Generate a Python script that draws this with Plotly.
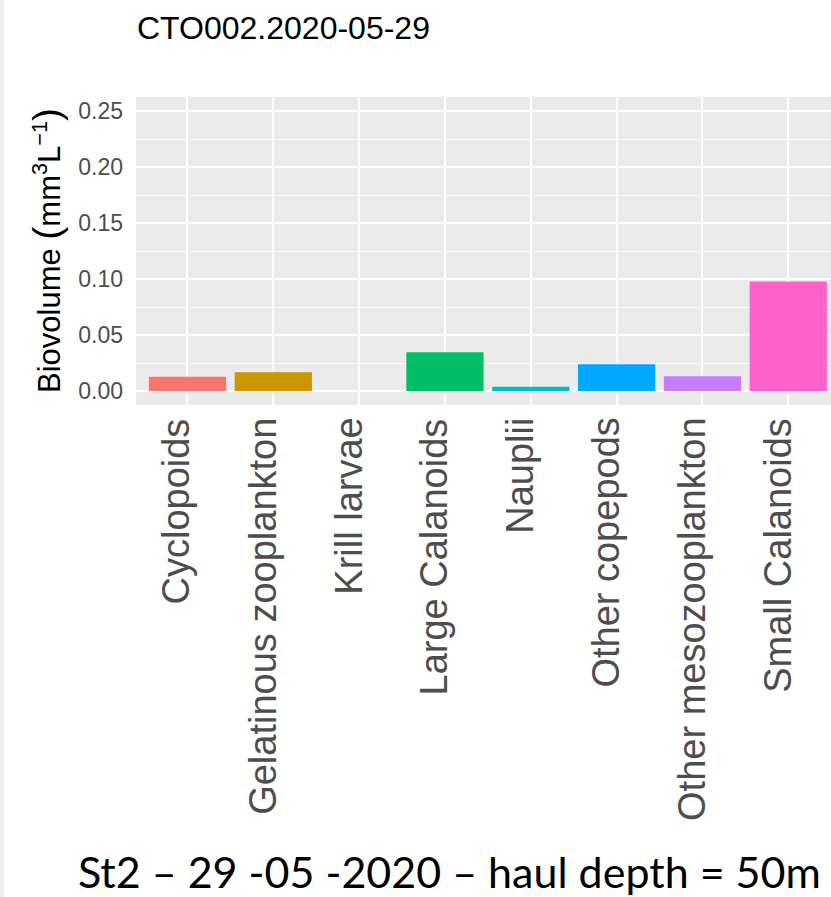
import plotly.graph_objects as go

categories = ["Cyclopoids", "Gelatinous zooplankton", "Krill larvae", "Large Calanoids",
              "Nauplii", "Other copepods", "Other mesozooplankton", "Small Calanoids"]
biovolume = [0.0128, 0.0167, 0.0, 0.0346, 0.0038, 0.0239, 0.0131, 0.0977]
colors = ["#F8766D", "#CD9600", "#7CAE00", "#00BE67", "#00BFC4", "#00A9FF", "#C77CFF", "#FF61CC"]
y_ticks = [0.0, 0.05, 0.10, 0.15, 0.20, 0.25]
y_tick_labels = ["0.00", "0.05", "0.10", "0.15", "0.20", "0.25"]

title_text = "CTO002.2020-05-29"
caption_text = "St2 – 29 -05 -2020 – haul depth = 50m"

FONT = "Liberation Sans, Arial, sans-serif"

fig = go.Figure()
fig.add_trace(go.Bar(
    x=categories, y=biovolume,
    marker=dict(color=colors, line=dict(width=0)),
    width=0.9, showlegend=False,
))

fig.update_layout(
    width=831, height=897,
    margin=dict(l=136, r=0, t=97, b=492, pad=0),
    paper_bgcolor="white",
    plot_bgcolor="#EBEBEB",
    font=dict(family=FONT, color="#4D4D4D"),
    title=dict(text=title_text, x=137/831, xanchor="left", xref="container",
               y=1 - 28/897, yanchor="middle", yref="container",
               font=dict(family=FONT, size=32, color="black")),
    bargap=0.1,
)

fig.update_xaxes(
    type="category", categoryorder="array", categoryarray=categories,
    range=[-0.6, 7.498],
    showticklabels=False,
    showgrid=True, gridcolor="white", gridwidth=2,
    zeroline=False, showline=False, ticks="",
)

fig.update_yaxes(
    range=[-0.0125, 0.2625],
    tickvals=y_ticks, ticktext=y_tick_labels,
    tickfont=dict(family=FONT, size=23, color="#4D4D4D"),
    showgrid=True, gridcolor="white", gridwidth=2,
    minor=dict(dtick=0.025, tick0=0.025, showgrid=True, gridcolor="white", gridwidth=1, ticks=""),
    zeroline=False, showline=False, ticks="",
    ticklabelstandoff=12,
)

# x-axis category labels, placed at each category on the x axis
for cat in categories:
    fig.add_annotation(
        text=cat, x=cat, xref="x", y=0, yref="paper",
        xanchor="center", yanchor="top", textangle=-90, showarrow=False,
        xshift=-11, yshift=-11,
        font=dict(family=FONT, size=38, color="#4D4D4D"),
    )

fig.add_annotation(
    text=("Biovolume <span style='font-size:39px'>(</span>mm<sup>3</sup>L<sup>−1</sup>"
          "<span style='font-size:39px'>)</span>"),
    xref="paper", yref="paper", x=(46 - 136) / 695, y=0.5,
    xanchor="center", yanchor="middle", textangle=-90, showarrow=False,
    font=dict(family=FONT, size=31, color="black"),
)

fig.add_annotation(
    text=caption_text,
    xref="paper", yref="paper", x=(449.5 - 136) / 695, y=(405 - 872) / 308,
    xanchor="center", yanchor="middle", showarrow=False,
    font=dict(family="Lato, Open Sans, sans-serif", size=43, color="black"),
)

fig.add_shape(type="rect", xref="paper", yref="paper",
              x0=-136/695, x1=(-136 + 4)/695, y0=-492/308, y1=1 + 97/308,
              fillcolor="#EEEEEE", line=dict(width=0), layer="below")

fig.write_html("out.html")
